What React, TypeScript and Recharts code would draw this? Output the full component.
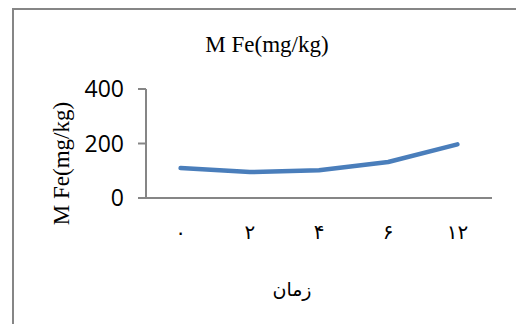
import React from 'react'
import { LineChart, Line, XAxis, YAxis, Label } from 'recharts'

// Sampling times (Persian digits) and iron content per sample
const times = ['۰', '۲', '۴', '۶', '۱۲']
const ironValues = [110, 95, 102, 132, 197]
const yTicks = [0, 200, 400]

const TITLE = 'M Fe(mg/kg)'
const X_TITLE = 'زمان'

const AXIS_GREY = '#868686'
const LINE_BLUE = '#4A7EBB'

const data = times.map((t, i) => ({ time: t, fe: ironValues[i] }))

export default function App() {
  return (
    <div style={{ position: 'absolute', left: 0, top: 0, width: 516, height: 324, background: '#fff', overflow: 'hidden' }}>
      {/* chart frame, only top and left edges fall inside the view */}
      <div
        style={{
          position: 'absolute',
          left: 12,
          top: 8,
          width: 520,
          height: 330,
          borderLeft: `2px solid ${AXIS_GREY}`,
          borderTop: `2px solid ${AXIS_GREY}`,
        }}
      />
      <div
        style={{
          position: 'absolute',
          left: 167,
          top: 30,
          width: 200,
          textAlign: 'center',
          fontFamily: '"Liberation Serif", "Times New Roman", serif',
          fontSize: 23,
          lineHeight: '30px',
          color: '#000',
        }}
      >
        {TITLE}
      </div>
      <div style={{ position: 'absolute', left: 0, top: 0 }}>
        <LineChart width={516} height={324} data={data} margin={{ top: 89, right: 24, bottom: 86, left: 0 }}>
          <XAxis
            dataKey="time"
            height={40}
            padding={{ left: 34.6, right: 34.6 }}
            axisLine={{ stroke: AXIS_GREY, strokeWidth: 2 }}
            tickLine={false}
            tickSize={0}
            tickMargin={27}
            tick={{ fill: '#000', fontSize: 20, fontFamily: '"DejaVu Sans", serif' }}
          >
            <Label
              value={X_TITLE}
              position="bottom"
              offset={45}
              dx={-27}
              style={{ fill: '#000', fontSize: 19, fontFamily: '"DejaVu Sans", serif' }}
            />
          </XAxis>
          <YAxis
            width={146}
            domain={[0, 400]}
            ticks={yTicks}
            interval={0}
            axisLine={{ stroke: AXIS_GREY, strokeWidth: 2 }}
            tickLine={{ stroke: AXIS_GREY, strokeWidth: 2 }}
            tickSize={8}
            tickMargin={14}
            tick={{ fill: '#000', fontSize: 23, fontFamily: '"Open Sans", "Liberation Sans", sans-serif' }}
          >
            <Label
              value={TITLE}
              position="center"
              angle={-90}
              dx={-12}
              dy={20}
              style={{ fill: '#000', fontSize: 23, fontFamily: '"Liberation Serif", "Times New Roman", serif', textAnchor: 'middle' }}
            />
          </YAxis>
          <Line
            type="linear"
            dataKey="fe"
            stroke={LINE_BLUE}
            strokeWidth={4.5}
            strokeLinecap="round"
            strokeLinejoin="round"
            dot={false}
            activeDot={false}
            isAnimationActive={false}
          />
        </LineChart>
      </div>
    </div>
  )
}
